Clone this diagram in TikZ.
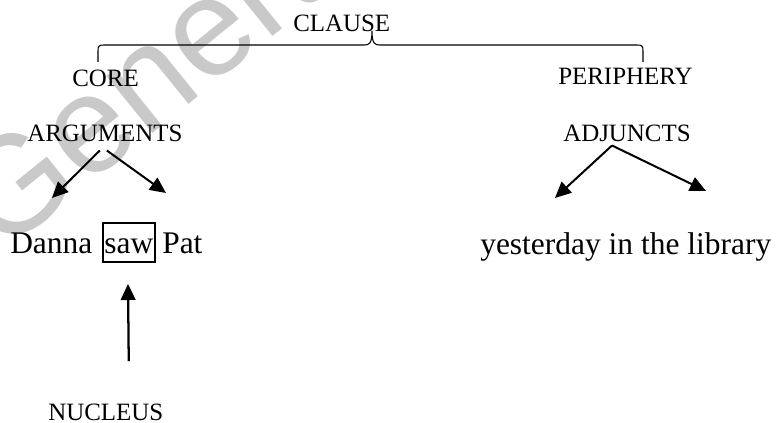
\documentclass[tikz,border=0pt]{standalone}
\usepackage{fontspec}
\setmainfont{Liberation Serif}
\newfontfamily\wmfont{Liberation Sans}
\usetikzlibrary{arrows.meta,calc}

\tikzset{
  label/.style={anchor=base west, inner sep=0pt, font=\fontsize{18.7}{22}\selectfont},
  word/.style={anchor=base west, inner sep=0pt, font=\fontsize{23.6}{28}\selectfont},
  branch/.style={line width=1.5pt, -{Triangle[length=12pt,width=11pt]}},
  bracket/.style={line width=0.8pt},
  watermark/.style={anchor=base west, inner sep=0pt, rotate=39,
    text=black!21, font=\wmfont\fontsize{104}{108}\selectfont}
}

\begin{document}
\begin{tikzpicture}[x=0.75pt, y=-0.75pt]
  \useasboundingbox (0,0) rectangle (776,423);
  \clip (0,0) rectangle (776,423);

  % faint background lettering
  \node[watermark] (wm) at (1.5,256) {Generated};

  % labels
  \node[label] (clause) at (293,32) {CLAUSE};
  \node[label] (core) at (72,87) {CORE};
  \node[label] (periphery) at (558,85) {PERIPHERY};
  \node[label] (args) at (27,142) {ARGUMENTS};
  \node[label] (adj) at (563,142) {ADJUNCTS};
  \node[label] (nuc) at (48,421) {NUCLEUS};

  % sentence
  \node[word] (danna) at (10,254) {Danna};
  \node[word, draw, line width=1.5pt, inner xsep=1.1pt, inner ysep=0pt,
        text height=23.25pt, text depth=6pt] (saw) at (102,254) {saw};
  \node[word] (pat) at (162,254) {Pat};
  \node[word] (yest) at (480,255) {yesterday in the library};

  % brace under CLAUSE
  \coordinate (bl) at (98,62);
  \coordinate (bm) at (372,31);
  \coordinate (br) at (643,62);
  \draw[bracket] (bl) -- (98,51) .. controls (98,46) and (99,45) .. (104,45)
     -- (364,45) .. controls (369,45) and (372,44) .. (bm)
     .. controls (372,44) and (375,45) .. (380,45)
     -- (637,45) .. controls (642,45) and (643,46) .. (643,51) -- (br);

  % branching arrows
  \coordinate (argL) at (52,198);
  \coordinate (argR) at (166,193);
  \coordinate (adjL) at (555,198);
  \coordinate (adjR) at (706,191);
  \draw[branch] ($(args.south)+(-5,8)$) -- (argL);
  \draw[branch] ($(args.south)+(2,8)$) -- (argR);
  \draw[branch] ($(adj.south)+(-15,3)$) -- (adjL);
  \draw[branch] ($(adj.south)+(-15,3)$) -- (adjR);

  % nucleus pointer
  \coordinate (nucTip) at (128,284);
  \draw[branch, line width=1.7pt] ($(nuc.north)+(23,-43)$) -- (nucTip);
\end{tikzpicture}
\end{document}
